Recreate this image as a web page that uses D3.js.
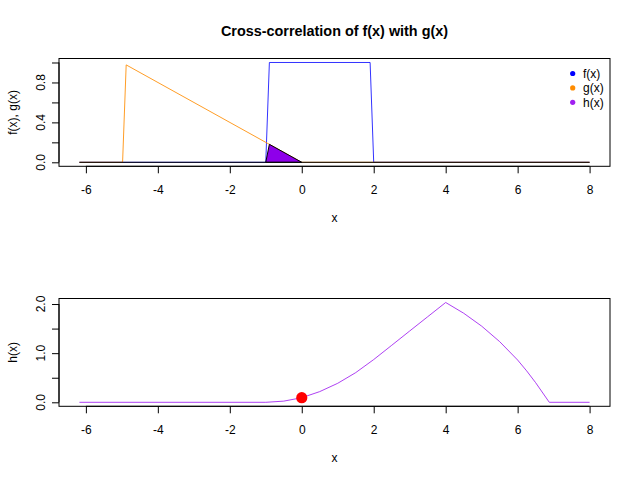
<!DOCTYPE html>
<html><head><meta charset="utf-8">
<script src="https://cdn.jsdelivr.net/npm/d3@7"></script>
<style>body{margin:0;background:#fff}svg{display:block;font-family:"Liberation Sans",Arial,Helvetica,sans-serif}</style>
</head><body>
<script>
// ---- data ----
const xLimits = [-6.18, 8];
const xTicks = [-6, -4, -2, 0, 2, 4, 6, 8];
// f(x): rectangle
const fX = [-6.18, -1.0, -0.9, 1.9, 2.0, 8];
const fY = [0, 0, 1, 1, 0, 0];
// g(x): shifted ramp
const gX = [-6.18, -4.98, -4.88, 0, 8];
const gY = [0, 0, 0.976, 0, 0];
// overlap product f*g (shaded)
const pX = [-1.0, -0.9, 0];
const pY = [0, 0.18, 0];
// h(x): cross-correlation
const hX = [-6.18, -1.0, -0.5, 0, 0.5, 1.0, 1.5, 2.0, 2.5, 3.0, 3.5, 4.0, 4.5, 5.0, 5.5, 6.0, 6.25, 6.5, 6.88, 8];
const hY = [0, 0, 0.024, 0.094, 0.218, 0.387, 0.604, 0.87, 1.16, 1.451, 1.741, 2.031, 1.813, 1.55, 1.235, 0.86, 0.64, 0.40, 0, 0];
const markX = 0, markY = 0.094;
const topYTicks = [0, 0.2, 0.4, 0.6, 0.8, 1.0];
const topYLabels = [0, 0.4, 0.8];
const botYTicks = [0, 0.5, 1.0, 1.5, 2.0];
const botYLabels = [0, 1.0, 2.0];
const legendLabels = ["f(x)", "g(x)", "h(x)"];
const legendColors = ["#0000ff", "#ff8c00", "#a020f0"];

const W = 640, H = 480;
const svg = d3.select("body").append("svg").attr("width", W).attr("height", H);

const pad = (a, b) => { const r = b - a; return [a - 0.04 * r, b + 0.04 * r]; };
const L = 59, R = 610;
const x = d3.scaleLinear().domain(pad(xLimits[0], xLimits[1])).range([L, R]);

function panel(top, bottom, yDomain, yTicks, yLabels, fmt, yTitle) {
  const y = d3.scaleLinear().domain(yDomain).range([bottom, top]);
  const g = svg.append("g");
  // box
  g.append("rect").attr("x", L).attr("y", top).attr("width", R - L).attr("height", bottom - top)
    .attr("fill", "none").attr("stroke", "#000").attr("stroke-width", 1);
  // x axis
  const xa = g.append("g").attr("transform", `translate(0,${bottom})`)
    .call(d3.axisBottom(x).tickValues(xTicks).tickSize(7).tickPadding(12).tickFormat(d3.format("d")));
  xa.select(".domain").attr("d", `M${x(xTicks[0])},0H${x(xTicks[xTicks.length-1])}`).attr("stroke", "#000");
  xa.selectAll("text").attr("font-size", 12).attr("fill", "#000").attr("font-family", "Liberation Sans, Arial, sans-serif")
    .text(d => d < 0 ? "-" + Math.abs(d) : d);
  // y axis
  const ya = g.append("g").attr("transform", `translate(${L},0)`)
    .call(d3.axisLeft(y).tickValues(yTicks).tickSize(7).tickFormat(""));
  ya.select(".domain").attr("d", `M0,${y(yTicks[0])}V${y(yTicks[yTicks.length-1])}`).attr("stroke", "#000");
  g.selectAll(".ylab").data(yLabels).enter().append("text")
    .attr("transform", d => `translate(${L - 14.5},${y(d)}) rotate(-90)`)
    .attr("text-anchor", "middle").attr("font-size", 12).text(d => fmt(d));
  // titles
  g.append("text").attr("x", (L + R) / 2).attr("y", bottom + 55.5).attr("text-anchor", "middle")
    .attr("font-size", 12).text("x");
  g.append("text").attr("transform", `translate(17,${(top + bottom) / 2}) rotate(-90)`)
    .attr("text-anchor", "middle").attr("font-size", 12).text(yTitle);
  return y;
}

// ---- top panel ----
const y1 = panel(58.5, 166.3, pad(0, 1), topYTicks, topYLabels, d3.format(".1f"), "f(x), g(x)");
const line1 = (xs, ys, yS) => d3.line().x(i => x(xs[i])).y(i => yS(ys[i]))(d3.range(xs.length));
svg.append("path").attr("d", line1(fX, fY, y1)).attr("fill", "none").attr("stroke", legendColors[0]).attr("stroke-width", 1).attr("stroke-opacity", 0.8);
svg.append("path").attr("d", line1(gX, gY, y1)).attr("fill", "none").attr("stroke", legendColors[1]).attr("stroke-width", 1).attr("stroke-opacity", 0.85);
svg.append("path").attr("d", line1(pX, pY, y1) + "Z").attr("fill", "#8e00ea").attr("stroke", "#000").attr("stroke-width", 1);
svg.append("path").attr("d", line1([xLimits[0], xLimits[1]], [0, 0], y1)).attr("fill", "none").attr("stroke", "#000").attr("stroke-width", 1);

// legend
const lg = svg.append("g");
legendLabels.forEach((t, i) => {
  const cy = 73.5 + i * 14.4;
  lg.append("circle").attr("cx", 572.7).attr("cy", cy).attr("r", 2.6).attr("fill", legendColors[i]);
  lg.append("text").attr("x", 583).attr("y", cy + 4.3).attr("font-size", 12).text(t);
});

// title
svg.append("text").attr("x", (L + R) / 2).attr("y", 36).attr("text-anchor", "middle")
  .attr("font-size", 14.4).attr("font-weight", "bold").text("Cross-correlation of f(x) with g(x)");

// ---- bottom panel ----
const hMax = d3.max(hY);
const y2 = panel(298.5, 406.3, pad(0, hMax), botYTicks, botYLabels, d3.format(".1f"), "h(x)");
svg.append("path").attr("d", line1(hX, hY, y2)).attr("fill", "none").attr("stroke", legendColors[2]).attr("stroke-width", 1).attr("stroke-opacity", 0.85);
svg.append("circle").attr("cx", x(markX)).attr("cy", y2(markY)).attr("r", 5.6).attr("fill", "#ff0000");
</script>
</body></html>
